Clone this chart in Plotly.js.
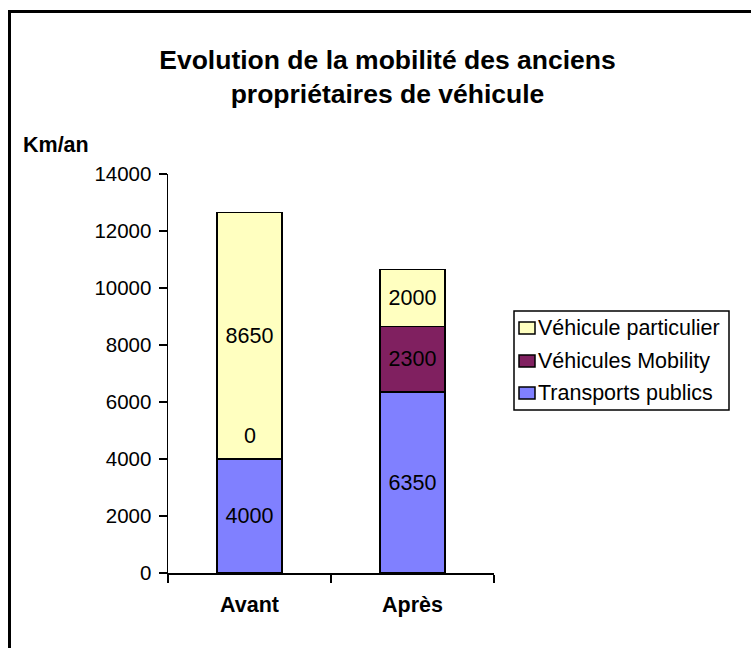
<!DOCTYPE html>
<html>
<head>
<meta charset="utf-8">
<script src="https://cdn.plot.ly/plotly-3.0.1.min.js"></script>
<style>
  html, body { margin: 0; padding: 0; background: #fff; }
  #wrap { position: relative; width: 751px; height: 648px; overflow: hidden; }
  #chart { position: absolute; left: 0; top: 0; width: 751px; height: 648px; }
  #frame { position: absolute; left: 8px; top: 10px; width: 800px; height: 700px;
           border-top: 3px solid #000; border-left: 3px solid #000; pointer-events: none; }
</style>
</head>
<body>
<div id="wrap">
  <div id="chart"></div>
  <div id="frame"></div>
</div>
<script>
// ---- data ----
const categories = ['Avant', 'Après'];
const seriesNames = ['Transports publics', 'Véhicules Mobility', 'Véhicule particulier'];
const transportsPublics = [4000, 6350];
const vehiculesMobility = [0, 2300];
const vehiculeParticulier = [8650, 2000];
const yTickValues = [0, 2000, 4000, 6000, 8000, 10000, 12000, 14000];

const seriesValues = [transportsPublics, vehiculesMobility, vehiculeParticulier];
const colors = ['#8080FF', '#802060', '#FFFFC0'];
const FONT = 'Liberation Sans, Arial, sans-serif';

const traces = seriesValues.map((vals, i) => ({
  type: 'bar',
  name: seriesNames[i],
  x: categories,
  y: vals,
  text: vals.map(v => v === 0 ? '' : String(v)),
  textposition: 'inside',
  insidetextanchor: 'middle',
  textangle: 0,
  constraintext: 'none',
  textfont: { family: FONT, size: 21.5, color: '#000' },
  marker: { color: colors[i], line: { color: '#000', width: 1.5 } },
  hoverinfo: 'none',
  showlegend: false
}));

// labels for zero-height segments (drawn just above the stack base)
const annotations = [];
const shapes = [];
seriesValues.forEach((vals, i) => {
  vals.forEach((v, j) => {
    if (v === 0) {
      let base = 0;
      for (let k = 0; k < i; k++) base += seriesValues[k][j];
      annotations.push({
        x: categories[j], y: base, xref: 'x', yref: 'y',
        text: String(v), showarrow: false, yanchor: 'bottom', yshift: 9,
        font: { family: FONT, size: 21.5, color: '#000' }
      });
    }
  });
});
annotations.push({
  text: '<b>Km/an</b>', xref: 'paper', yref: 'paper', x: -0.45, y: 1.0727,
  xanchor: 'left', yanchor: 'middle', showarrow: false,
  font: { family: FONT, size: 21.5, color: '#000' }
});

// ---- legend (drawn in paper coordinates, top item = last series) ----
const PW = 326, PH = 399;            // plot area size in px
const px = v => v / PW, py = v => v / PH;
const legLeft = 514 - 168, legRight = 729 - 168;   // px from plot left
const legTop = 573 - 311, legBottom = 573 - 410;   // px above plot bottom
shapes.push({
  type: 'rect', xref: 'paper', yref: 'paper',
  x0: px(legLeft), x1: px(legRight), y0: py(legBottom), y1: py(legTop),
  line: { color: '#000', width: 1.5 }, fillcolor: '#fff', layer: 'above'
});
const rowCenters = [573 - 328, 573 - 361, 573 - 393];
for (let r = 0; r < seriesNames.length; r++) {
  const i = seriesNames.length - 1 - r;
  const cy = rowCenters[r];
  shapes.push({
    type: 'rect', xref: 'paper', yref: 'paper',
    x0: px(519 - 168), x1: px(535 - 168), y0: py(cy - 6), y1: py(cy + 6),
    line: { color: '#000', width: 1.5 }, fillcolor: colors[i], layer: 'above'
  });
  annotations.push({
    text: seriesNames[i], xref: 'paper', yref: 'paper',
    x: px(536 - 168), y: py(cy), xanchor: 'left', yanchor: 'middle',
    showarrow: false, font: { family: FONT, size: 21.5, color: '#000' }
  });
}

const layout = {
  width: 751, height: 648,
  margin: { l: 168, r: 257, t: 174, b: 75 },
  paper_bgcolor: '#fff', plot_bgcolor: '#fff',
  barmode: 'stack', bargap: 0.6,
  showlegend: false,
  title: {
    text: '<b>Evolution de la mobilité des anciens<br>propriétaires de véhicule</b>',
    x: 0.516, xanchor: 'center', y: 0.894, yanchor: 'middle',
    font: { family: FONT, size: 26.5, color: '#000' }
  },
  xaxis: {
    type: 'category', range: [-0.5, 1.5],
    showline: true, linecolor: '#000', linewidth: 1.5,
    ticks: 'outside', tickson: 'boundaries', ticklen: 8, tickwidth: 1.5, tickcolor: '#000',
    ticklabelstandoff: 12,
    tickfont: { family: FONT, size: 21.5, color: '#000' },
    tickprefix: '<b>', ticksuffix: '</b>',
    showgrid: false, zeroline: false, fixedrange: true
  },
  yaxis: {
    range: [0, 14000], tickvals: yTickValues, ticktext: yTickValues.map(String),
    showline: true, linecolor: '#000', linewidth: 1.5,
    ticks: 'outside', ticklen: 8, tickwidth: 1.5, tickcolor: '#000',
    ticklabelstandoff: 3,
    tickfont: { family: FONT, size: 20.5, color: '#000' },
    showgrid: false, zeroline: false, fixedrange: true
  },
  xaxis2: {
    overlaying: 'x', anchor: 'y', range: [-0.5, 1.5],
    tickvals: [-0.5, 0.5, 1.5], showticklabels: false,
    ticks: 'inside', ticklen: 7, tickwidth: 1.5, tickcolor: '#000',
    showgrid: false, zeroline: false, showline: false, fixedrange: true
  },
  yaxis2: {
    overlaying: 'y', anchor: 'x', side: 'left', range: [0, 14000],
    tickvals: yTickValues, showticklabels: false,
    ticks: 'inside', ticklen: 7, tickwidth: 1.5, tickcolor: '#000',
    showgrid: false, zeroline: false, showline: false, fixedrange: true
  },
  shapes: shapes,
  annotations: annotations
};

Plotly.newPlot('chart', traces, layout, { displayModeBar: false, staticPlot: true });
</script>
</body>
</html>
